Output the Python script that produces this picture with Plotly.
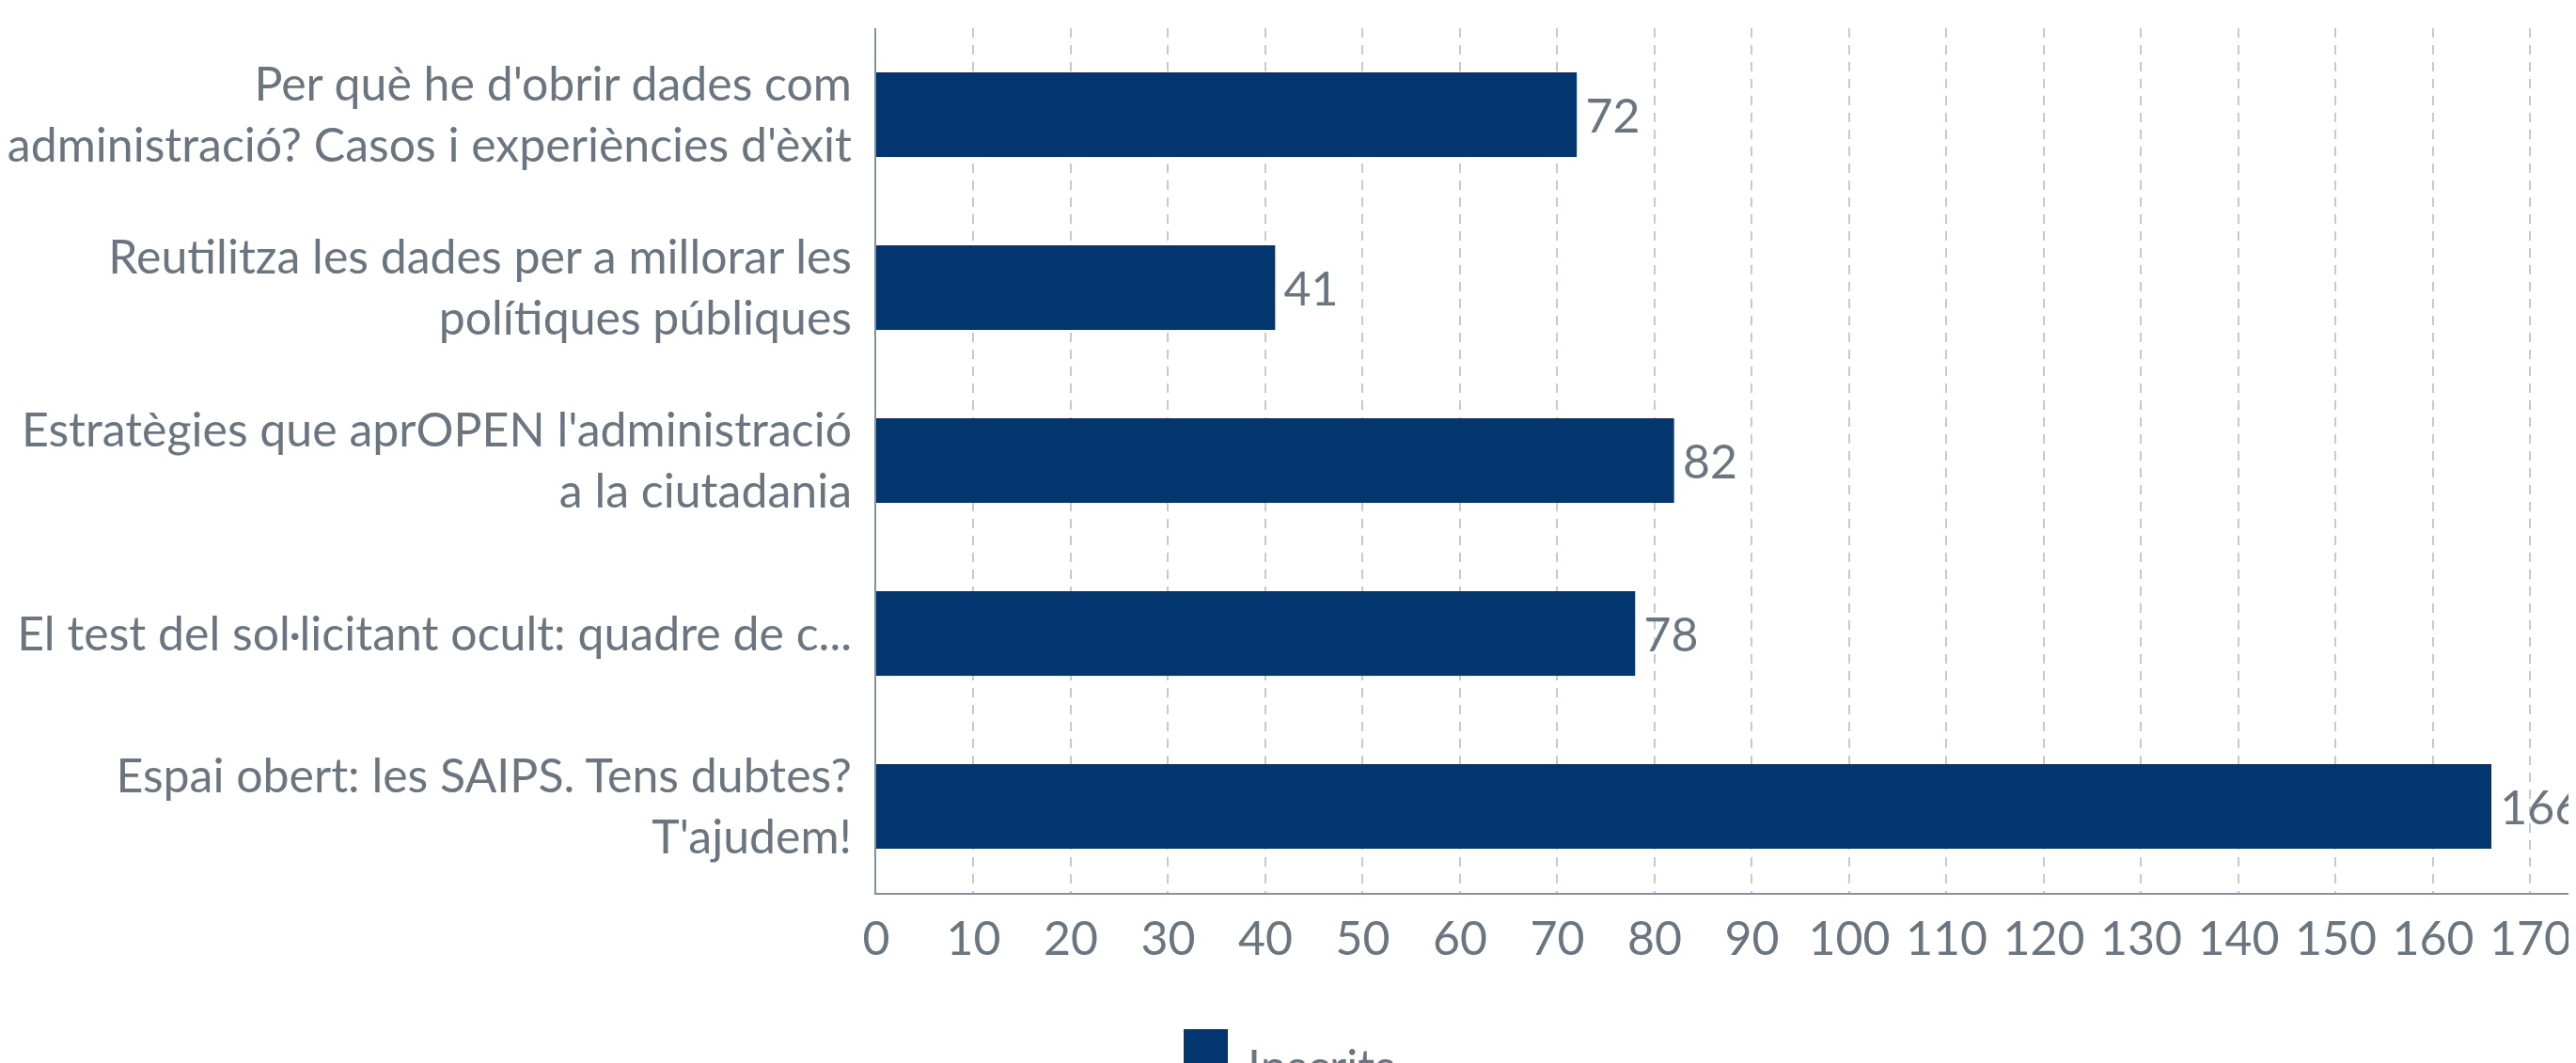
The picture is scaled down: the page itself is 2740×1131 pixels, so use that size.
import plotly.graph_objects as go

categories = [
    "Per què he d'obrir dades com<br>administració? Casos i experiències d'èxit",
    "Reutilitza les dades per a millorar les<br>polítiques públiques",
    "Estratègies que aprOPEN l'administració<br>a la ciutadania",
    "El test del sol·licitant ocult: quadre de c...",
    "Espai obert: les SAIPS. Tens dubtes?<br>T'ajudem!",
]
values = [72, 41, 82, 78, 166]
series_name = "Inscrits"
tick_values = list(range(0, 171, 10))

BAR = "#03356f"
TXT = "#6b7580"
FONT = "Lato, 'Open Sans', sans-serif"
FS = 50

W, H = 2740, 1131
L, R, T, B = 924, 9, 22, 189
pw, ph = W - L - R, H - T - B

fig = go.Figure()
fig.add_trace(go.Bar(
    y=categories, x=values, orientation="h", name=series_name,
    marker=dict(color=BAR, line=dict(width=0)),
    width=0.49,
    text=["\u2009" + str(v) for v in values], textposition="outside",
    textfont=dict(family=FONT, size=FS, color=TXT),
    constraintext="none", cliponaxis=False, showlegend=False,
))

def px2paper_x(px):
    return (px - L) / pw

def py2paper_y(py):
    return (H - B - py) / ph

fig.add_shape(type="rect", xref="paper", yref="paper",
              x0=px2paper_x(1251), x1=px2paper_x(1298),
              y0=py2paper_y(1087), y1=py2paper_y(1134),
              fillcolor=BAR, line=dict(width=0), layer="above")
fig.add_annotation(xref="paper", yref="paper", x=px2paper_x(1317), y=py2paper_y(1126),
                   xanchor="left", yanchor="middle", showarrow=False,
                   text=series_name, font=dict(family=FONT, size=FS, color=TXT))

fig.update_layout(
    width=W, height=H,
    margin=dict(l=L, r=R, t=T, b=B, autoexpand=False),
    paper_bgcolor="white", plot_bgcolor="white",
    font=dict(family=FONT, size=FS, color=TXT),
    bargap=0.5,
    xaxis=dict(range=[0, 174.6], tickvals=tick_values, ticktext=[str(t) for t in tick_values],
               showgrid=True, gridcolor="#c6c9cd", griddash="10px,8px", gridwidth=2,
               showline=True, linecolor="#8a9098", linewidth=2, zeroline=False,
               ticks="", ticklabelstandoff=4,
               tickfont=dict(family=FONT, size=FS, color=TXT)),
    yaxis=dict(autorange="reversed", showgrid=False, showline=True,
               linecolor="#8a9098", linewidth=2, ticks="", ticklabelstandoff=14,
               tickfont=dict(family=FONT, size=FS, color=TXT)),
)

fig.write_html("out.html")
